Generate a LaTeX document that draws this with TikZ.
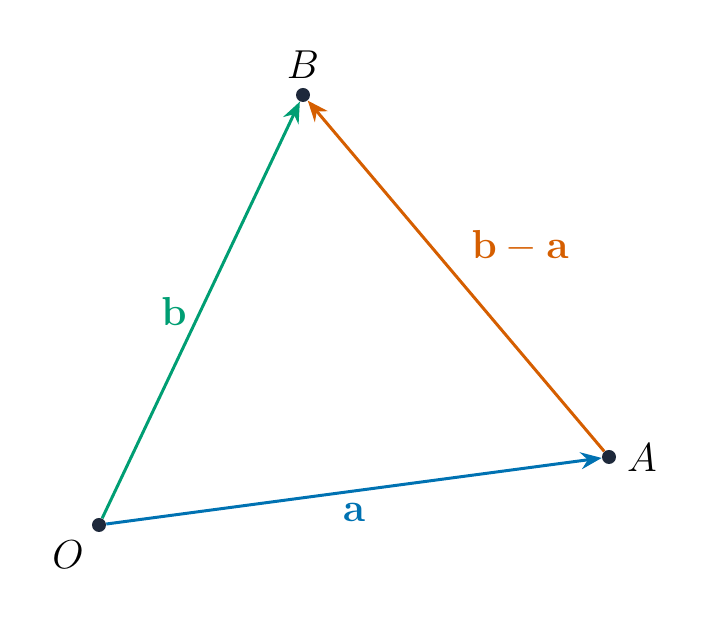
\documentclass[tikz,border=0pt]{standalone}
\usepackage{fix-cm}
\usetikzlibrary{arrows.meta}
\definecolor{vecA}{RGB}{0,114,178}
\definecolor{vecB}{RGB}{0,158,115}
\definecolor{vecBA}{RGB}{213,94,0}
\definecolor{pt}{RGB}{30,41,59}
\tikzset{
	dot/.style={circle,fill=pt,inner sep=0pt,minimum size=0.28cm},
	vec/.style={line width=1.7pt,-{Stealth[length=0.42cm,width=0.34cm,inset=0.14cm]}},
	lab/.style={font=\fontsize{23}{27}\selectfont}
}
\begin{document}
\begin{tikzpicture}
	\useasboundingbox (0,0) rectangle (14.16,12.42);
	\node[dot] (O) at (1.98,1.92) {};
	\node[dot] (A) at (12.18,3.28) {};
	\node[dot] (B) at (6.06,10.52) {};
	\node[lab] (lO) at (1.36,1.32) {$O$};
	\node[lab] (lA) at (12.84,3.26) {$A$};
	\node[lab] (lB) at (6.06,11.12) {$B$};
	\draw[vec,vecA] (O) -- (A);
	\draw[vec,vecB] (O) -- (B);
	\draw[vec,vecBA] (A) -- (B);
	\node[lab,text=vecA] (la) at (7.08,2.16) {$\mathbf{a}$};
	\node[lab,text=vecB] (lb) at (3.48,6.2) {$\mathbf{b}$};
	\node[lab,text=vecBA] (lba) at (10.4,7.5) {$\mathbf{b}-\mathbf{a}$};
\end{tikzpicture}
\end{document}
